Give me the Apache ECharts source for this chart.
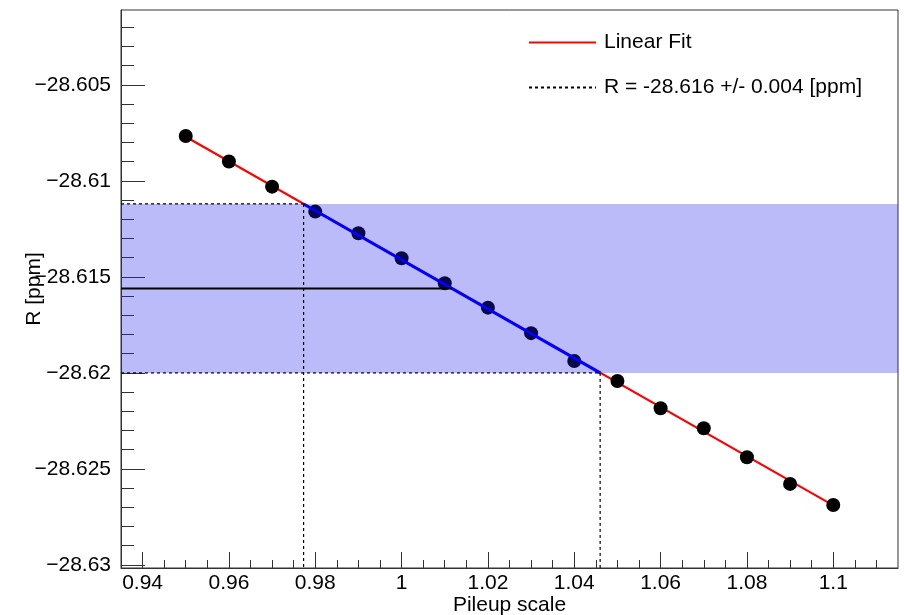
<!DOCTYPE html>
<html>
<head>
<meta charset="utf-8">
<script src="https://cdn.jsdelivr.net/npm/echarts@6/dist/echarts.min.js"></script>
<style>
html,body{margin:0;padding:0;background:#fff;}
#chart{width:904px;height:615px;}
</style>
</head>
<body>
<div id="chart"></div>
<script>
// ---- data ----
const pileupScale = [0.95, 0.96, 0.97, 0.98, 0.99, 1.00, 1.01, 1.02, 1.03, 1.04, 1.05, 1.06, 1.07, 1.08, 1.09, 1.10];
const rValues = [-28.60766, -28.60899, -28.61030, -28.61160, -28.61273, -28.61403, -28.61533, -28.61660,
                 -28.61793, -28.61938, -28.62042, -28.62184, -28.62288, -28.62439, -28.62578, -28.62688];
const fitX = [0.95, 1.10];
const fitY = [-28.6077, -28.6269];
const bandY = [-28.6200, -28.6112];      // R - sigma, R + sigma
const centralR = -28.6156;
const bandCrossX = [0.9773, 1.046];      // fit crossing upper / lower band edge
const centralCrossX = 1.0116;            // fit crossing central R
const xRange = [0.935, 1.115];
const yRange = [-28.63016, -28.6011];

const xTickValues = [0.94, 0.96, 0.98, 1.00, 1.02, 1.04, 1.06, 1.08, 1.10];
const xTickLabels = ['0.94', '0.96', '0.98', '1', '1.02', '1.04', '1.06', '1.08', '1.1'];
const xMinorTicks = [0.945, 0.95, 0.955, 0.965, 0.97, 0.975, 0.985, 0.99, 0.995, 1.005, 1.01, 1.015,
                     1.025, 1.03, 1.035, 1.045, 1.05, 1.055, 1.065, 1.07, 1.075, 1.085, 1.09, 1.095, 1.105, 1.11];
const yTickValues = [-28.63, -28.625, -28.62, -28.615, -28.61, -28.605];
const yTickLabels = ['\u221228.63', '\u221228.625', '\u221228.62', '\u221228.615', '\u221228.61', '\u221228.605'];
const yMinorTicks = [-28.602, -28.603, -28.604, -28.606, -28.607, -28.608, -28.609, -28.611, -28.612, -28.613, -28.614,
                     -28.616, -28.617, -28.618, -28.619, -28.621, -28.622, -28.623, -28.624,
                     -28.626, -28.627, -28.628, -28.629];
const legendFit = 'Linear Fit';
const legendR = 'R = -28.616 +/- 0.004 [ppm]';

// ---- chart ----
const FONT = "'Liberation Sans', Arial, Helvetica, sans-serif";
const TXT = '#000';
function lookup(vals, labels, v) {
  let best = 0, bd = Infinity;
  vals.forEach((t, i) => { const d = Math.abs(t - v); if (d < bd) { bd = d; best = i; } });
  return labels[best];
}
const dashStyle = { color: '#000', width: 1.2, type: [3, 3] };

const chart = echarts.init(document.getElementById('chart'), null, { renderer: 'canvas' });
chart.setOption({
  animation: false,
  backgroundColor: '#fff',
  textStyle: { fontFamily: FONT },
  grid: { left: 121, right: 6, top: 10, bottom: 47, show: true, borderColor: '#333', borderWidth: 1,
          backgroundColor: 'transparent', containLabel: false, outerBoundsMode: 'none' },
  legend: {
    orient: 'vertical', left: 523, top: 27,
    itemWidth: 67, itemHeight: 14, itemGap: 24,
    data: [legendFit, legendR],
    itemStyle: { opacity: 0 },
    textStyle: { fontSize: 21, color: TXT, fontFamily: FONT, padding: [0, 0, 0, 3] },
    selectedMode: false
  },
  xAxis: [
    {
      type: 'value', min: xRange[0], max: xRange[1],
      axisLine: { show: true, lineStyle: { color: '#333', width: 1 } },
      axisTick: { show: true, inside: true, length: 16, customValues: xTickValues, lineStyle: { color: '#333' } },
      axisLabel: { show: true, customValues: xTickValues, fontSize: 21, color: TXT, margin: 5, fontFamily: FONT,
                   formatter: v => lookup(xTickValues, xTickLabels, v) },
      splitLine: { show: false },
      name: 'Pileup scale', nameLocation: 'middle', nameGap: 27, nameMoveOverlap: false,
      nameTextStyle: { fontSize: 21, color: TXT, fontFamily: FONT }
    },
    {
      type: 'value', min: xRange[0], max: xRange[1], position: 'bottom',
      axisLine: { show: false },
      axisTick: { show: true, inside: true, length: 8, customValues: xMinorTicks, lineStyle: { color: '#333' } },
      axisLabel: { show: false },
      splitLine: { show: false }
    }
  ],
  yAxis: [
    {
      type: 'value', min: yRange[0], max: yRange[1],
      axisLine: { show: true, lineStyle: { color: '#333', width: 1 } },
      axisTick: { show: true, inside: true, length: 24, customValues: yTickValues, lineStyle: { color: '#333' } },
      axisLabel: { show: true, customValues: yTickValues, fontSize: 21, color: TXT, margin: 10, fontFamily: FONT,
                   formatter: v => lookup(yTickValues, yTickLabels, v) },
      splitLine: { show: false },
      name: 'R [ppm]', nameLocation: 'middle', nameGap: 76, nameRotate: 90, nameMoveOverlap: false,
      nameTextStyle: { fontSize: 21, color: TXT, fontFamily: FONT }
    },
    {
      type: 'value', min: yRange[0], max: yRange[1], position: 'left',
      axisLine: { show: false },
      axisTick: { show: true, inside: true, length: 13, customValues: yMinorTicks, lineStyle: { color: '#333' } },
      axisLabel: { show: false },
      splitLine: { show: false }
    }
  ],
  series: [
    {
      name: legendFit, type: 'line', z: 3, symbol: 'none', silent: true,
      data: fitX.map((x, i) => [x, fitY[i]]),
      lineStyle: { color: '#ff0000', width: 2.2 }, itemStyle: { color: '#ff0000' }
    },
    {
      name: 'points', type: 'scatter', z: 4, symbol: 'circle', symbolSize: 14,
      data: pileupScale.map((x, i) => [x, rValues[i]]),
      itemStyle: { color: '#000', opacity: 1 }
    },
    {
      name: 'band', type: 'custom', z: 5, silent: true,
      data: [[xRange[0], bandY[0], xRange[1], bandY[1]]],
      encode: { x: [0, 2], y: [1, 3] },
      renderItem: function (params, api) {
        const p0 = api.coord([api.value(0), api.value(3)]);
        const p1 = api.coord([api.value(2), api.value(1)]);
        return { type: 'rect', shape: { x: p0[0], y: p0[1], width: p1[0] - p0[0], height: p1[1] - p0[1] },
                 style: { fill: 'rgba(30,30,235,0.30)' } };
      }
    },
    {
      name: 'within band', type: 'line', z: 6, symbol: 'none', silent: true,
      data: [[bandCrossX[0], bandY[1]], [bandCrossX[1], bandY[0]]],
      lineStyle: { color: '#0000ff', width: 3 }
    },
    {
      name: 'central', type: 'line', z: 6, symbol: 'none', silent: true,
      data: [[xRange[0], centralR], [centralCrossX, centralR]],
      lineStyle: { color: '#000', width: 2 }
    },
    {
      name: legendR, type: 'line', z: 7, symbol: 'none', silent: true,
      data: [[xRange[0], bandY[1]], [bandCrossX[0], bandY[1]]],
      lineStyle: dashStyle, itemStyle: { color: '#000' }
    },
    {
      name: 'upper vertical', type: 'line', z: 7, symbol: 'none', silent: true,
      data: [[bandCrossX[0], bandY[1]], [bandCrossX[0], yRange[0]]],
      lineStyle: dashStyle
    },
    {
      name: 'lower horizontal', type: 'line', z: 7, symbol: 'none', silent: true,
      data: [[xRange[0], bandY[0]], [bandCrossX[1], bandY[0]]],
      lineStyle: dashStyle
    },
    {
      name: 'lower vertical', type: 'line', z: 7, symbol: 'none', silent: true,
      data: [[bandCrossX[1], bandY[0]], [bandCrossX[1], yRange[0]]],
      lineStyle: dashStyle
    }
  ]
});
</script>
</body>
</html>
